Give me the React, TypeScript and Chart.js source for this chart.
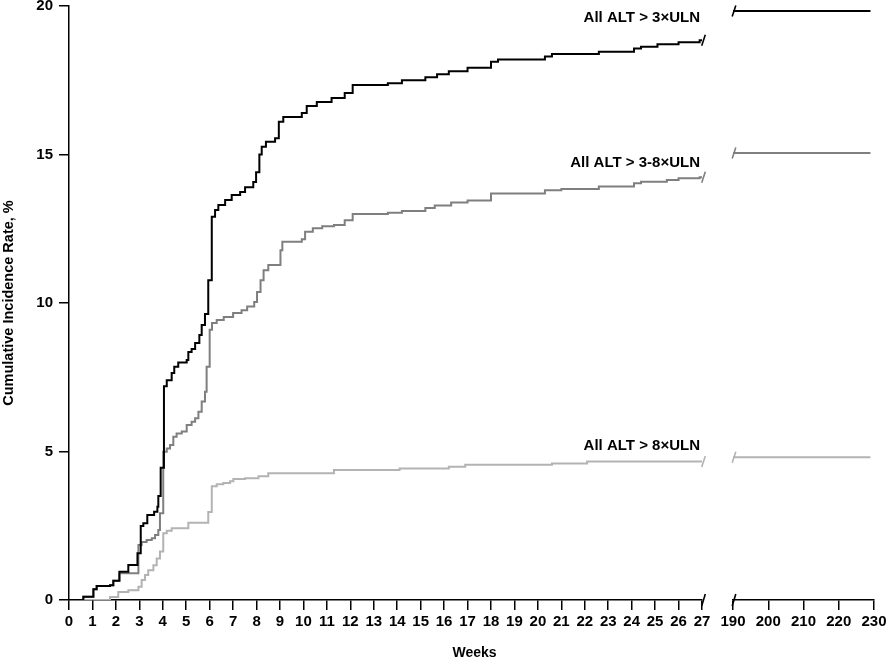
import React, { useEffect, useRef } from 'react';
import { Chart, registerables } from 'chart.js';

Chart.register(...registerables);

// ---- Data ----
const seriesNames = ['All ALT > 3×ULN', 'All ALT > 3-8×ULN', 'All ALT > 8×ULN'];

// All ALT > 3×ULN (weeks 0–27)
const weeksAll3 = [0, 0.61, 1.04, 1.18, 1.75, 1.89, 2.15, 2.53, 2.92, 3.06, 3.17, 3.34, 3.63, 3.77, 3.81, 3.91, 4.05, 4.17, 4.38, 4.49, 4.66, 5.02, 5.09, 5.23, 5.38, 5.56, 5.66, 5.8, 5.94, 6.09, 6.23, 6.37, 6.66, 6.94, 7.3, 7.51, 7.86, 7.98, 8.12, 8.22, 8.4, 8.79, 8.95, 9.14, 9.93, 10.14, 10.57, 11.2, 11.76, 12.1, 13.6, 14.2, 15.2, 15.7, 16.2, 17.0, 18.0, 18.3, 20.3, 20.6, 22.6, 24.1, 24.4, 25.1, 26.0, 26.9, 27];
const valsAll3 = [0, 0.11, 0.36, 0.47, 0.5, 0.65, 0.95, 1.18, 1.57, 2.49, 2.58, 2.86, 2.97, 3.14, 3.5, 4.45, 7.2, 7.4, 7.64, 7.85, 8.0, 8.08, 8.35, 8.45, 8.65, 8.92, 9.26, 9.63, 10.77, 12.9, 13.13, 13.3, 13.47, 13.64, 13.74, 13.9, 14.07, 14.4, 15.0, 15.26, 15.43, 15.55, 16.1, 16.26, 16.4, 16.63, 16.77, 16.9, 17.07, 17.34, 17.4, 17.5, 17.6, 17.7, 17.8, 17.92, 18.12, 18.2, 18.3, 18.38, 18.46, 18.57, 18.63, 18.71, 18.78, 18.85, 18.85];

// All ALT > 3-8×ULN (weeks 0–27)
const weeksAll38 = [0, 0.61, 1.04, 1.18, 1.75, 1.89, 2.15, 2.96, 3.1, 3.31, 3.53, 3.67, 3.81, 3.88, 4.02, 4.17, 4.31, 4.45, 4.59, 4.81, 5.02, 5.23, 5.38, 5.52, 5.66, 5.8, 5.87, 6.0, 6.1, 6.3, 6.6, 7.0, 7.36, 7.6, 7.9, 8.02, 8.17, 8.3, 8.5, 9.02, 9.1, 9.93, 10.07, 10.4, 10.8, 11.3, 11.76, 12.1, 13.6, 14.2, 15.2, 15.6, 16.3, 17.0, 18.0, 20.3, 21.0, 22.6, 24.1, 24.4, 25.5, 26.0, 26.9, 27];
const valsAll38 = [0, 0.11, 0.36, 0.47, 0.5, 0.65, 0.9, 1.85, 1.95, 2.02, 2.08, 2.19, 2.36, 2.92, 4.99, 5.1, 5.22, 5.5, 5.61, 5.67, 5.89, 6.0, 6.12, 6.34, 6.68, 7.01, 7.85, 9.1, 9.33, 9.43, 9.53, 9.66, 9.76, 9.88, 10.03, 10.37, 10.77, 11.1, 11.28, 11.78, 12.06, 12.15, 12.4, 12.52, 12.58, 12.63, 12.79, 13.0, 13.04, 13.1, 13.2, 13.28, 13.38, 13.45, 13.69, 13.8, 13.84, 13.92, 14.03, 14.08, 14.14, 14.2, 14.23, 14.23];

// All ALT > 8×ULN (weeks 0–27)
const weeksAll8 = [0, 1.75, 2.1, 2.53, 2.96, 3.1, 3.24, 3.38, 3.6, 3.74, 3.88, 4.02, 4.17, 4.38, 5.09, 5.94, 6.09, 6.3, 6.58, 6.87, 7.01, 7.51, 8.08, 8.5, 11.3, 14.1, 16.2, 16.9, 20.6, 22.1, 27];
const valsAll8 = [0, 0.1, 0.27, 0.33, 0.45, 0.67, 0.84, 1.0, 1.17, 1.4, 1.63, 2.25, 2.33, 2.42, 2.6, 2.96, 3.83, 3.9, 3.94, 4.0, 4.07, 4.1, 4.17, 4.27, 4.38, 4.43, 4.49, 4.55, 4.6, 4.66, 4.66];

// Late segment (weeks 190–230)
const lateWeeks = [190, 229];
const lateAll3 = [19.83, 19.83];
const lateAll38 = [15.05, 15.05];
const lateAll8 = [4.81, 4.81];

// Tick labels
const xTicksEarly = [0, 1, 2, 3, 4, 5, 6, 7, 8, 9, 10, 11, 12, 13, 14, 15, 16, 17, 18, 19, 20, 21, 22, 23, 24, 25, 26, 27];
const xTicksLate = [190, 200, 210, 220, 230];
const yTicks = [0, 5, 10, 15, 20];

// ---- Styles ----
const COLORS = ['#000000', '#7f7f7f', '#b3b3b3'];
const LABEL_OFFSETS = [22, 15, 16];
const FONT_FAMILY = '"Liberation Sans", Arial, Helvetica, sans-serif';

const toPts = (xs: number[], ys: number[]) => xs.map((x, i) => ({ x, y: ys[i] }));

export default function App() {
  const ref = useRef<HTMLCanvasElement | null>(null);

  useEffect(() => {
    document.body.style.margin = '0';
    const canvas = ref.current;
    if (!canvas) return;

    const early = [toPts(weeksAll3, valsAll3), toPts(weeksAll38, valsAll38), toPts(weeksAll8, valsAll8)];
    const late = [toPts(lateWeeks, lateAll3), toPts(lateWeeks, lateAll38), toPts(lateWeeks, lateAll8)];

    const datasets: any[] = [];
    early.forEach((d, i) => {
      datasets.push({
        label: seriesNames[i], data: d, xAxisID: 'x', yAxisID: 'y',
        borderColor: COLORS[i], borderWidth: 2, pointRadius: 0, stepped: 'before', fill: false,
      });
    });
    late.forEach((d, i) => {
      datasets.push({
        label: seriesNames[i] + ' (late)', data: d, xAxisID: 'x2', yAxisID: 'y',
        borderColor: COLORS[i], borderWidth: 2, pointRadius: 0, stepped: 'before', fill: false,
      });
    });

    const tickFont = { family: FONT_FAMILY, size: 15, weight: 'bold' as const };

    const xFit = (s: any) => {
      s.height = 58;
      s.paddingLeft = 0;
      s.paddingRight = 0;
    };

    const drawSlash = (ctx: CanvasRenderingContext2D, x: number, y: number, color: string, h: number) => {
      ctx.save();
      ctx.strokeStyle = color;
      ctx.lineWidth = 1.6;
      ctx.beginPath();
      ctx.moveTo(x - 1.8, y + h);
      ctx.lineTo(x + 1.8, y - h);
      ctx.stroke();
      ctx.restore();
    };

    const decor = {
      id: 'decor',
      afterDatasetsDraw(chart: any) {
        const { ctx, chartArea, scales } = chart;
        const xs = scales.x;
        const x2 = scales.x2;
        const ys = scales.y;
        const xEnd = xs.getPixelForValue(xTicksEarly[xTicksEarly.length - 1]);
        const xStart = x2.getPixelForValue(xTicksLate[0]);
        // axis break marks
        drawSlash(ctx, xEnd + 1.5, ys.bottom, '#000', 6);
        drawSlash(ctx, xStart + 1, ys.bottom, '#000', 6);
        // series break marks and labels
        early.forEach((d, i) => {
          const last = d[d.length - 1];
          const py = ys.getPixelForValue(last.y);
          drawSlash(ctx, xEnd + 1.5, py, COLORS[i], 5.5);
          const l = late[i][0];
          drawSlash(ctx, xStart + 1, ys.getPixelForValue(l.y), COLORS[i], 5.5);
          ctx.save();
          ctx.fillStyle = '#000';
          ctx.font = `bold 15px ${FONT_FAMILY}`;
          ctx.textAlign = 'right';
          ctx.textBaseline = 'middle';
          ctx.fillText(seriesNames[i], xEnd - 2, py - LABEL_OFFSETS[i]);
          ctx.restore();
        });
        // x-axis title centred under the whole axis
        ctx.save();
        ctx.fillStyle = '#000';
        ctx.font = `bold 14px ${FONT_FAMILY}`;
        ctx.textAlign = 'center';
        ctx.textBaseline = 'middle';
        ctx.fillText('Weeks', (chartArea.left + chartArea.right) / 2 + 3, 653);
        ctx.restore();
      },
    };

    const chart = new Chart(canvas, {
      type: 'line',
      data: { datasets },
      options: {
        animation: false,
        responsive: false,
        devicePixelRatio: 1,
        layout: { padding: { left: 0, right: 13, top: 6, bottom: 0 } },
        plugins: { legend: { display: false }, tooltip: { enabled: false }, title: { display: false } },
        scales: {
          x: {
            type: 'linear', position: 'bottom', stack: 'weeks', stackWeight: 633,
            min: 0, max: 27,
            afterBuildTicks: (s: any) => { s.ticks = xTicksEarly.map((v) => ({ value: v })); },
            afterFit: xFit,
            ticks: { font: tickFont, color: '#000', padding: 3, maxRotation: 0, autoSkip: false },
            grid: { drawOnChartArea: false, drawTicks: true, tickLength: 10, color: '#000', lineWidth: 1.5 },
            border: { display: true, color: '#000', width: 1.5 },
          },
          gap: {
            type: 'linear', position: 'bottom', stack: 'weeks', stackWeight: 31,
            afterFit: xFit,
            ticks: { display: false },
            grid: { display: false, drawTicks: false },
            border: { display: false },
          },
          x2: {
            type: 'linear', position: 'bottom', stack: 'weeks', stackWeight: 141,
            min: 190, max: 230,
            afterBuildTicks: (s: any) => { s.ticks = xTicksLate.map((v) => ({ value: v })); },
            afterFit: xFit,
            ticks: { font: tickFont, color: '#000', padding: 3, maxRotation: 0, autoSkip: false },
            grid: { drawOnChartArea: false, drawTicks: true, tickLength: 10, color: '#000', lineWidth: 1.5 },
            border: { display: true, color: '#000', width: 1.5 },
          },
          y: {
            type: 'linear', position: 'left', min: 0, max: 20,
            afterBuildTicks: (s: any) => { s.ticks = yTicks.map((v) => ({ value: v })); },
            afterFit: (s: any) => { s.width = 69; s.paddingTop = 0; s.paddingBottom = 0; },
            ticks: { font: tickFont, color: '#000', padding: 6 },
            grid: { drawOnChartArea: false, drawTicks: true, tickLength: 10, color: '#000', lineWidth: 1.5 },
            border: { display: true, color: '#000', width: 1.5 },
            title: {
              display: true, text: 'Cumulative Incidence Rate, %', color: '#000',
              font: { family: FONT_FAMILY, size: 14.5, weight: 'bold' }, padding: { top: 0, bottom: 0 },
            },
          },
        },
      },
      plugins: [decor],
    } as any);

    return () => chart.destroy();
  }, []);

  return (
    <div style={{ width: 887, height: 658 }}>
      <canvas ref={ref} width={887} height={658} style={{ display: 'block', width: 887, height: 658 }} />
    </div>
  );
}
